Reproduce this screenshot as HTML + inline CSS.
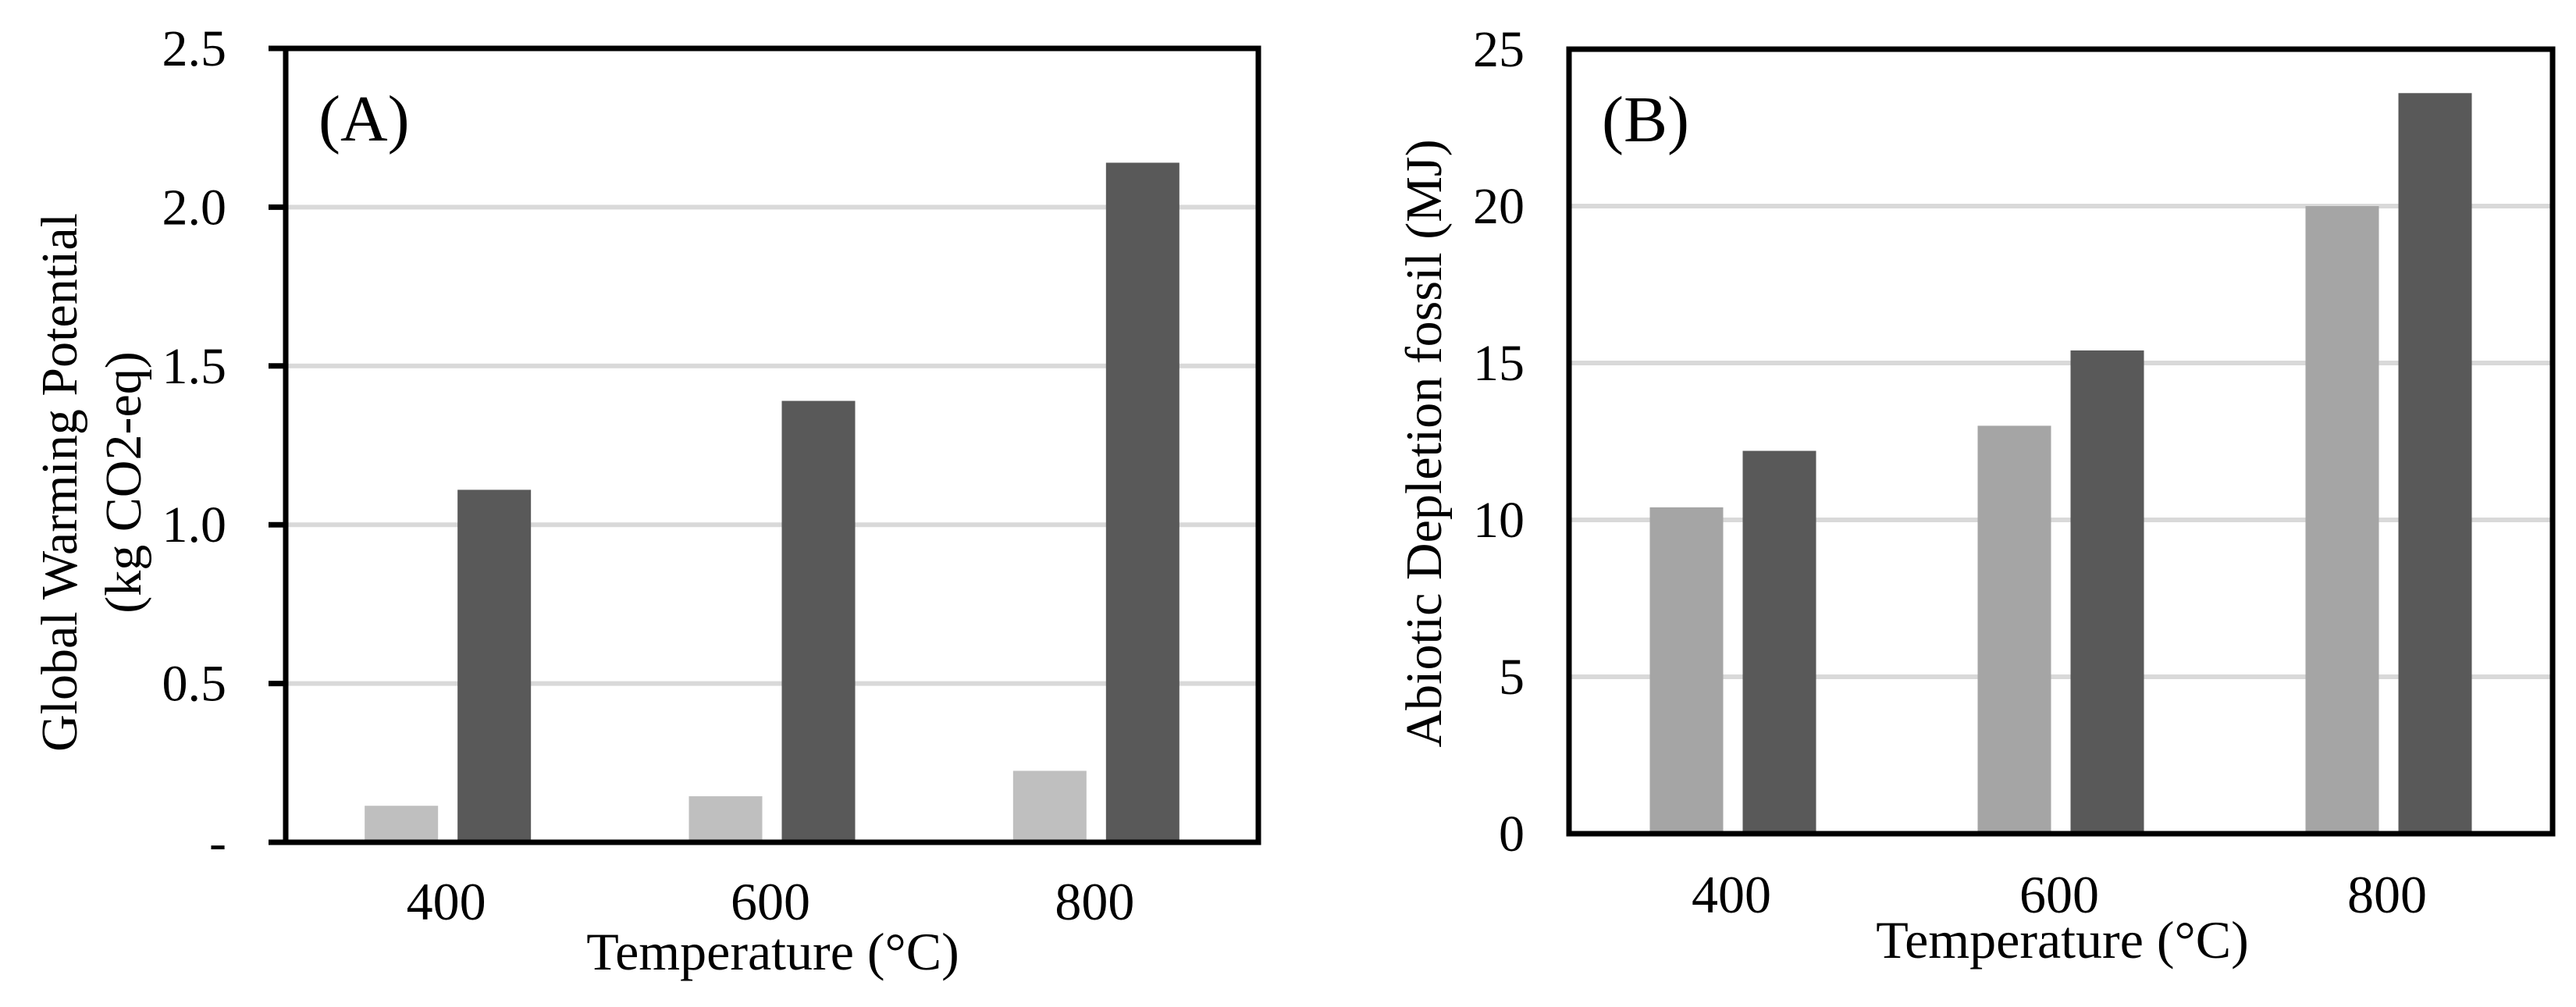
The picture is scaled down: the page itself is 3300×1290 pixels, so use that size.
<!DOCTYPE html>
<html><head><meta charset="utf-8"><style>
html,body{margin:0;padding:0;background:#fff;}
svg{display:block;font-family:"Liberation Serif","Times New Roman",serif;}
</style></head><body>
<svg id="chart" width="3300" height="1290" viewBox="0 0 3300 1290" xmlns="http://www.w3.org/2000/svg"></svg>
<script>
const categories = ["400", "600", "800"];
const gwpLight = [0.115, 0.145, 0.225];
const gwpDark = [1.11, 1.39, 2.14];
const gwpTicks = [0, 0.5, 1.0, 1.5, 2.0, 2.5];
const gwpTickLabels = ["-", "0.5", "1.0", "1.5", "2.0", "2.5"];
const adfLight = [10.4, 13.0, 20.0];
const adfDark = [12.2, 15.4, 23.6];
const adfTicks = [0, 5, 10, 15, 20, 25];
const adfTickLabels = ["0", "5", "10", "15", "20", "25"];

const NS = "http://www.w3.org/2000/svg";
const svg = document.getElementById("chart");
function mk(tag, attrs, parent, text) {
  const e = document.createElementNS(NS, tag);
  for (const k in attrs) e.setAttribute(k, attrs[k]);
  if (text !== undefined) e.textContent = text;
  (parent || svg).appendChild(e);
  return e;
}

function panel(cfg) {
  const g = mk("g", {});
  
  
  const yScale = v => cfg.bottom - (v / cfg.max) * (cfg.bottom - cfg.top);
  const band = (cfg.right - cfg.left) / categories.length;
  const xCenter = i => cfg.left + band * (i + 0.5);
  // gridlines
  cfg.ticks.forEach((t, i) => {
    const y = yScale(t);
    if (t > 0 && t < cfg.max) {
      const gl = mk("line", {x1: cfg.left, x2: cfg.right, y1: y, y2: y, stroke: "#d9d9d9", "stroke-width": 6}, g);
      
      
    }
    if (cfg.tickMarks) {
      const tm = mk("line", {x1: cfg.left - 22, x2: cfg.left, y1: y, y2: y, stroke: "#000", "stroke-width": 7}, g);
      
      
    }
    const lbl = mk("text", {x: cfg.tickRight, y: y + 22, "text-anchor": "end", "font-size": 66}, g, cfg.tickLabels[i]);
    
    
  });
  // bars
  const bw = 94, gap = 25;
  categories.forEach((c, i) => {
    const cx = xCenter(i);
    const l = mk("rect", {x: cx - gap / 2 - bw, y: yScale(cfg.light[i]), width: bw, height: cfg.bottom - yScale(cfg.light[i]), fill: cfg.lightColor}, g);
    
    
    const d = mk("rect", {x: cx + gap / 2, y: yScale(cfg.dark[i]), width: bw, height: cfg.bottom - yScale(cfg.dark[i]), fill: "#595959"}, g);
    
    
    const xl = mk("text", {x: cx - 2, y: cfg.xTickY, "text-anchor": "middle", "font-size": 68}, g, c);
    
    
  });
  // frame
  const fr = mk("rect", {x: cfg.left, y: cfg.top, width: cfg.right - cfg.left, height: cfg.bottom - cfg.top, fill: "none", stroke: "#000", "stroke-width": 7}, g);
  
  
  if (cfg.tickMarks) {
    const ext = mk("line", {x1: cfg.left - 22, x2: cfg.left, y1: cfg.top, y2: cfg.top, stroke: "#000", "stroke-width": 7}, g);
    
    
  }
  const pl = mk("text", {x: cfg.left + 42, y: cfg.top + 118, "font-size": 84}, g, cfg.panelLabel);
  
  
  const xt = mk("text", {x: cfg.xTitleX, y: cfg.xTitleY, "text-anchor": "middle", "font-size": 68}, g, "Temperature (°C)");
  
  
  cfg.yTitle.forEach((line, k) => {
    const t = mk("text", {transform: "translate(" + cfg.yTitleX[k] + "," + cfg.yTitleY + ") rotate(-90)", "text-anchor": "middle", "font-size": 66}, g, line);
    
    
  });
}

panel({name: "panel-a-gwp", left: 366, right: 1612, top: 62, bottom: 1079, max: 2.5,
  ticks: gwpTicks, tickLabels: gwpTickLabels, tickMarks: true, tickRight: 290,
  light: gwpLight, dark: gwpDark, lightColor: "#bfbfbf", xTickY: 1178,
  panelLabel: "(A)", xTitleX: 990, xTitleY: 1242,
  yTitle: ["Global Warming Potential", "(kg CO2-eq)"], yTitleX: [98, 180], yTitleY: 618});

panel({name: "panel-b-adf", left: 2010, right: 3270, top: 63, bottom: 1068, max: 25,
  ticks: adfTicks, tickLabels: adfTickLabels, tickMarks: false, tickRight: 1953,
  light: adfLight, dark: adfDark, lightColor: "#a5a5a5", xTickY: 1169,
  panelLabel: "(B)", xTitleX: 2642, xTitleY: 1227,
  yTitle: ["Abiotic Depletion fossil (MJ)"], yTitleX: [1846], yTitleY: 568});
</script>
</body></html>
